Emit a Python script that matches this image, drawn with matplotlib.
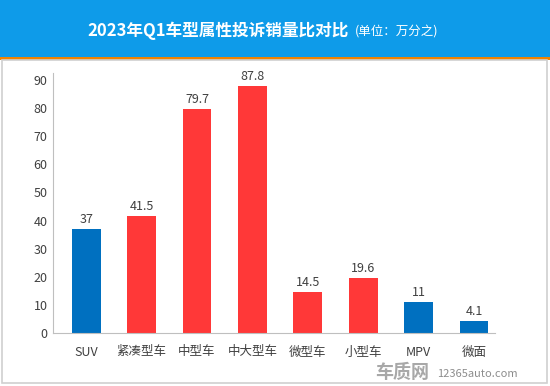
import matplotlib

matplotlib.use("Agg")

import matplotlib.pyplot as plt
import numpy as np
from matplotlib.patches import Rectangle

categories = ["SUV", "紧凑型车", "中型车", "中大型车", "微型车", "小型车", "MPV", "微面"]
values = [37, 41.5, 79.7, 87.8, 14.5, 19.6, 11, 4.1]
value_labels = ["37", "41.5", "79.7", "87.8", "14.5", "19.6", "11", "4.1"]
is_blue = [True, False, False, False, False, False, True, True]

BLUE = "#0070C0"
RED = "#FF3838"
TEXT = "#404040"

plt.rcParams["font.family"] = ["Noto Sans CJK SC", "DejaVu Sans"]

fig = plt.figure(figsize=(5.5, 3.86), dpi=100)
fig.patch.set_facecolor("white")

# header band + orange rule + light frame
fig.patches.append(Rectangle((0, 1 - 57 / 386), 1, 57 / 386, transform=fig.transFigure,
                             facecolor="#0E9BE9", edgecolor="none", zorder=0))
fig.patches.append(Rectangle((0, 1 - 60 / 386), 1, 3 / 386, transform=fig.transFigure,
                             facecolor="#F08300", edgecolor="none", zorder=0))
fig.patches.append(Rectangle((2 / 550, 3 / 386), 545 / 550, (323) / 386, transform=fig.transFigure,
                             facecolor="none", edgecolor="#D0D0D0", linewidth=1.2, zorder=0))

fig.text(349 / 550, 1 - 31 / 386, "2023年Q1车型属性投诉销量比对比", color="white",
         fontsize=12, fontweight="bold", ha="right", va="center")
fig.text(355 / 550, 1 - 32 / 386, "(单位：万分之)", color="white",
         fontsize=9, ha="left", va="center")

ax = fig.add_axes([53 / 550, 1 - 333 / 386, (495 - 53) / 550, (333 - 73) / 386])
x = np.arange(len(categories))
colors = [BLUE if b else RED for b in is_blue]
ax.bar(x, values, width=0.52, color=colors, zorder=2)
for xi, v, lab in zip(x, values, value_labels):
    ax.text(xi, v + 1.2, lab, ha="center", va="bottom", fontsize=9, color=TEXT)

ax.set_xlim(-0.6, 7.38)
ax.set_ylim(0, 92.5)
ax.set_yticks(np.arange(0, 91, 10))
ax.set_xticks(x)
ax.set_xticklabels(categories)
ax.tick_params(axis="both", length=0, labelsize=9, colors=TEXT)
ax.tick_params(axis="x", pad=9)
ax.tick_params(axis="y", pad=4)
ax.spines["top"].set_visible(False)
ax.spines["right"].set_visible(False)
ax.spines["left"].set_color("#BFBFBF")
ax.spines["bottom"].set_color("#BFBFBF")

fig.text(375 / 550, 1 - 372 / 386, "车质网", color="#A8A8A8", fontsize=13,
         fontweight="bold", ha="left", va="center")
fig.text(437 / 550, 1 - 374 / 386, "12365auto.com", color="#8C8C8C", fontsize=8,
         ha="left", va="center")

fig.savefig("out.png", dpi=100, facecolor="white")
